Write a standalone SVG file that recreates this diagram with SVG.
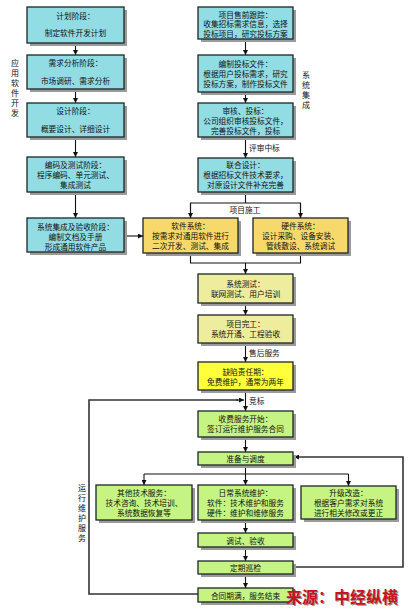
<svg xmlns="http://www.w3.org/2000/svg" width="408" height="608" viewBox="0 0 408 608">
<defs>
<marker id="ah" viewBox="0 0 6 6" refX="6" refY="3" markerWidth="5" markerHeight="5" orient="auto" markerUnits="userSpaceOnUse">
<path d="M0,0 L6,3 L0,6 z" fill="#111"/>
</marker>
<style>
.b rect.s{fill:#9b9b9b}
.b rect.m{stroke:#1c2626;stroke-width:1.3}
.c rect.m{fill:#92dce4}
.y rect.m{fill:#f7d96b}
.k rect.m{fill:#eded9d}
.yy rect.m{fill:#ffff3a}
.g rect.m{fill:#c6f483}
text{font-family:"Noto Sans CJK SC","Noto Sans",sans-serif;font-size:7.7px;fill:#111;text-anchor:middle;dominant-baseline:central}
.sd text{font-size:8px}
.cn line,.cn polyline{stroke:#111;stroke-width:1.1;fill:none}
.cn .loop{stroke:#333;stroke-width:1.6}
.wm{font-size:16px;font-weight:bold;fill:#c8141c;text-anchor:start;dominant-baseline:alphabetic}
</style>
</defs>
<rect width="408" height="608" fill="#fff"/>

<g id="connectors" class="cn">
<line x1="75.5" y1="43" x2="75.5" y2="55" marker-end="url(#ah)"/>
<line x1="75.5" y1="89" x2="75.5" y2="103" marker-end="url(#ah)"/>
<line x1="75.5" y1="137" x2="75.5" y2="157" marker-end="url(#ah)"/>
<line x1="75.5" y1="192" x2="75.5" y2="218" marker-end="url(#ah)"/>
<line x1="124" y1="236" x2="143" y2="236" marker-end="url(#ah)"/>
<line x1="245.5" y1="39" x2="245.5" y2="55" marker-end="url(#ah)"/>
<line x1="245.5" y1="92" x2="245.5" y2="103" marker-end="url(#ah)"/>
<line x1="245.5" y1="137" x2="245.5" y2="158" marker-end="url(#ah)"/>
<polyline points="245.5,192 245.5,203"/>
<polyline points="190.5,218 190.5,203 300.5,203 300.5,218"/>
<line x1="190.5" y1="203" x2="190.5" y2="218" marker-end="url(#ah)"/>
<line x1="300.5" y1="203" x2="300.5" y2="218" marker-end="url(#ah)"/>
<polyline points="190.5,253 190.5,263 300.5,263 300.5,253"/>
<line x1="245.5" y1="263" x2="245.5" y2="274" marker-end="url(#ah)"/>
<line x1="245.5" y1="303" x2="245.5" y2="315" marker-end="url(#ah)"/>
<line x1="245.5" y1="343" x2="245.5" y2="362" marker-end="url(#ah)"/>
<line x1="245.5" y1="390" x2="245.5" y2="411" marker-end="url(#ah)"/>
<line x1="245.5" y1="437" x2="245.5" y2="452" marker-end="url(#ah)"/>
<polyline points="245.5,465 245.5,474"/>
<polyline points="144,474 348.5,474"/>
<line x1="144" y1="474" x2="144" y2="485" marker-end="url(#ah)"/>
<line x1="245.5" y1="474" x2="245.5" y2="485" marker-end="url(#ah)"/>
<line x1="348.5" y1="474" x2="348.5" y2="486" marker-end="url(#ah)"/>
<line x1="245.5" y1="520" x2="245.5" y2="533" marker-end="url(#ah)"/>
<line x1="245.5" y1="547" x2="245.5" y2="561" marker-end="url(#ah)"/>
<line x1="245.5" y1="574" x2="245.5" y2="588" marker-end="url(#ah)"/>
<polyline class="loop" points="198,594 89,594 89,400 238,400"/>
<line x1="236" y1="400" x2="244" y2="400" marker-end="url(#ah)"/>
<polyline class="loop" points="293,567 403,567 403,457 300,457"/>
<line x1="300" y1="457" x2="294" y2="457" marker-end="url(#ah)"/>
</g>

<g id="n1" class="b c"><rect class="s" x="30" y="10" width="97" height="36"/><rect class="m" x="27" y="7" width="97" height="36"/><text x="75.5" y="15">计划阶段：</text><text x="75.5" y="32">制定软件开发计划</text></g>
<g id="n2" class="b c"><rect class="s" x="30" y="58" width="97" height="34"/><rect class="m" x="27" y="55" width="97" height="34"/><text x="75.5" y="62">需求分析阶段：</text><text x="75.5" y="80">市场调研、需求分析</text></g>
<g id="n3" class="b c"><rect class="s" x="30" y="106" width="97" height="34"/><rect class="m" x="27" y="103" width="97" height="34"/><text x="75.5" y="110">设计阶段：</text><text x="75.5" y="128">概要设计、详细设计</text></g>
<g id="n4" class="b c"><rect class="s" x="30" y="160" width="97" height="35"/><rect class="m" x="27" y="157" width="97" height="35"/><text x="75.5" y="164">编码及测试阶段：</text><text x="75.5" y="174">程序编码、单元测试、</text><text x="75.5" y="184">集成测试</text></g>
<g id="n5" class="b c"><rect class="s" x="30" y="221" width="97" height="34"/><rect class="m" x="27" y="218" width="97" height="34"/><text x="75.5" y="226">系统集成及验收阶段：</text><text x="75.5" y="236">编制文档及手册</text><text x="75.5" y="246">形成通用软件产品</text></g>

<g id="r1" class="b c"><rect class="s" x="201" y="10" width="95" height="32"/><rect class="m" x="198" y="7" width="95" height="32"/><text x="245.5" y="14">项目售前跟踪：</text><text x="245.5" y="23.5">收集招标需求信息，选择</text><text x="245.5" y="33">投标项目，研究投标方案</text></g>
<g id="r2" class="b c"><rect class="s" x="201" y="58" width="95" height="37"/><rect class="m" x="198" y="55" width="95" height="37"/><text x="245.5" y="63">编制投标文件：</text><text x="245.5" y="73">根据用户投标需求，研究</text><text x="245.5" y="83">投标方案，制作投标文件</text></g>
<g id="r3" class="b c"><rect class="s" x="201" y="106" width="95" height="34"/><rect class="m" x="198" y="103" width="95" height="34"/><text x="245.5" y="110">审核、投标：</text><text x="245.5" y="120">公司组织审核投标文件，</text><text x="245.5" y="130">完善投标文件，投标</text></g>
<g id="r4" class="b c"><rect class="s" x="201" y="161" width="95" height="34"/><rect class="m" x="198" y="158" width="95" height="34"/><text x="245.5" y="164">联合设计：</text><text x="245.5" y="174">根据招标文件技术要求，</text><text x="245.5" y="184">对原设计文件补充完善</text></g>

<g id="sw" class="b y"><rect class="s" x="146" y="221" width="95" height="35"/><rect class="m" x="143" y="218" width="95" height="35"/><text x="190.5" y="225">软件系统：</text><text x="190.5" y="235">按需求对通用软件进行</text><text x="190.5" y="245">二次开发、测试、集成</text></g>
<g id="hw" class="b y"><rect class="s" x="256" y="221" width="95" height="35"/><rect class="m" x="253" y="218" width="95" height="35"/><text x="300.5" y="225">硬件系统：</text><text x="300.5" y="235">设计采购、设备安装、</text><text x="300.5" y="245">管线敷设、系统调试</text></g>

<g id="t1" class="b k"><rect class="s" x="201" y="277" width="95" height="29"/><rect class="m" x="198" y="274" width="95" height="29"/><text x="245.5" y="283">系统测试：</text><text x="245.5" y="293">联网测试、用户培训</text></g>
<g id="t2" class="b k"><rect class="s" x="201" y="318" width="95" height="28"/><rect class="m" x="198" y="315" width="95" height="28"/><text x="245.5" y="323">项目完工：</text><text x="245.5" y="333">系统开通、工程验收</text></g>
<g id="t3" class="b yy"><rect class="s" x="201" y="365" width="95" height="28"/><rect class="m" x="198" y="362" width="95" height="28"/><text x="245.5" y="371">缺陷责任期：</text><text x="245.5" y="381">免费维护，通常为两年</text></g>

<g id="g1" class="b g"><rect class="s" x="201" y="414" width="95" height="26"/><rect class="m" x="198" y="411" width="95" height="26"/><text x="245.5" y="418.5">收费服务开始：</text><text x="245.5" y="428.5">签订运行维护服务合同</text></g>
<g id="g2" class="b g"><rect class="s" x="201" y="455" width="95" height="13"/><rect class="m" x="198" y="452" width="95" height="13"/><text x="245.5" y="458.5">准备与调度</text></g>
<g id="g3" class="b g"><rect class="s" x="99" y="488" width="96" height="35"/><rect class="m" x="96" y="485" width="96" height="35"/><text x="144" y="492">其他技术服务：</text><text x="144" y="502">技术咨询、技术培训、</text><text x="144" y="512">系统数据恢复等</text></g>
<g id="g4" class="b g"><rect class="s" x="201" y="488" width="95" height="35"/><rect class="m" x="198" y="485" width="95" height="35"/><text x="245.5" y="492">日常系统维护：</text><text x="245.5" y="502">软件：技术维护和服务</text><text x="245.5" y="512">硬件：维护和维修服务</text></g>
<g id="g5" class="b g"><rect class="s" x="304" y="489" width="95" height="33"/><rect class="m" x="301" y="486" width="95" height="33"/><text x="348.5" y="492">升级改造：</text><text x="348.5" y="502">根据客户需求对系统</text><text x="348.5" y="512">进行相关修改或更正</text></g>
<g id="g6" class="b g"><rect class="s" x="201" y="536" width="95" height="14"/><rect class="m" x="198" y="533" width="95" height="14"/><text x="245.5" y="540">调试、验收</text></g>
<g id="g7" class="b g"><rect class="s" x="201" y="564" width="95" height="13"/><rect class="m" x="198" y="561" width="95" height="13"/><text x="245.5" y="567.5">定期巡检</text></g>
<g id="g8" class="b g"><rect class="s" x="201" y="591" width="95" height="14"/><rect class="m" x="198" y="588" width="95" height="14"/><text x="245.5" y="595">合同期满，服务结束</text></g>

<g id="labels">
<text x="245" y="209">项目施工</text>
<text x="249" y="147" style="text-anchor:start">评审中标</text>
<text x="249" y="352" style="text-anchor:start">售后服务</text>
<text x="249" y="400" style="text-anchor:start">竞标</text>
<g id="side1" class="sd"><text x="15" y="62">应</text><text x="15" y="72">用</text><text x="15" y="82">软</text><text x="15" y="92">件</text><text x="15" y="102">开</text><text x="15" y="112">发</text></g>
<g id="side2" class="sd"><text x="306" y="74">系</text><text x="306" y="84">统</text><text x="306" y="94">集</text><text x="306" y="104">成</text></g>
<g id="side3" class="sd"><text x="82" y="487">运</text><text x="82" y="497">行</text><text x="82" y="507">维</text><text x="82" y="517">护</text><text x="82" y="527">服</text><text x="82" y="537">务</text></g>
<text class="wm" x="287" y="604" style="fill:#9a9a9a">来源：中经纵横</text>
<text class="wm" x="286" y="603">来源：中经纵横</text>
</g>
</svg>
